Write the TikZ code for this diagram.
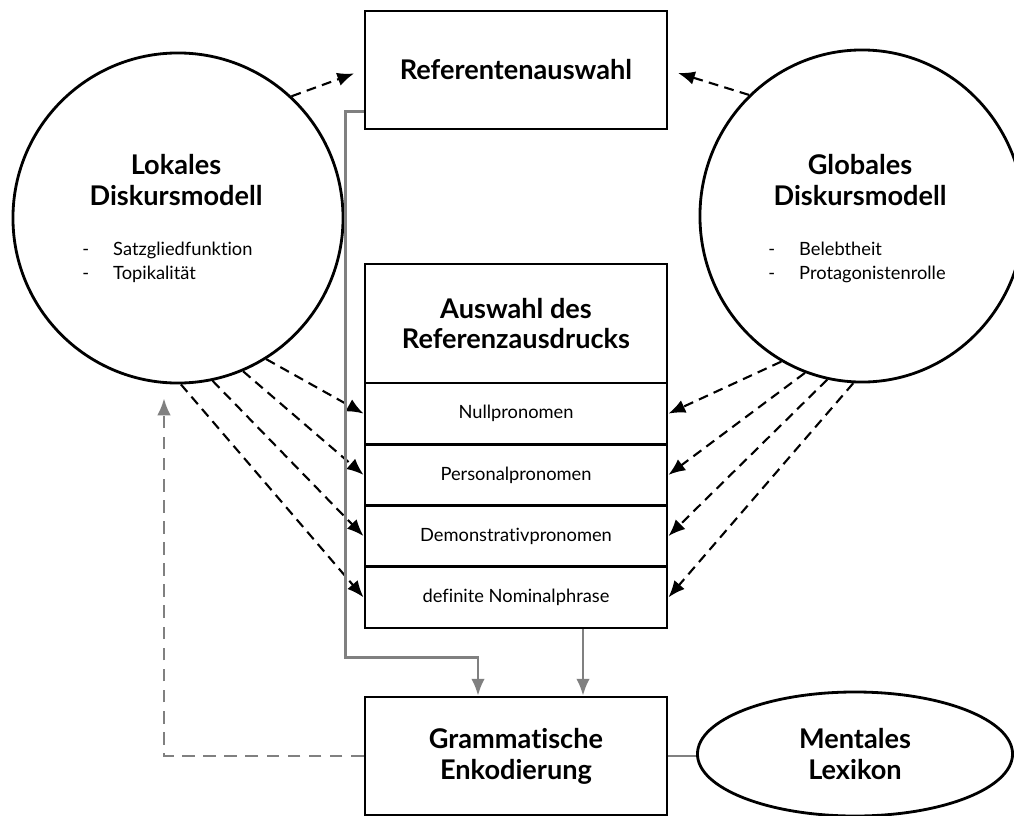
\documentclass[tikz,border=0pt]{standalone}
\usepackage{fontspec}
\setmainfont{Lato}[Ligatures=NoCommon]
\usetikzlibrary{arrows.meta,shapes.geometric,calc}

\tikzset{
  box/.style={draw, line width=2pt, minimum width=75.5mm, inner sep=0pt},
  rund/.style={draw, ellipse, line width=2pt, inner sep=0pt},
  titel/.style={font=\fontsize{19.3}{22}\selectfont\bfseries, align=center},
  eintrag/.style={font=\fontsize{13}{17}\selectfont},
  pfeil/.style={line width=1.5pt, dash pattern=on 7pt off 4.5pt,
    -{Latex[length=4.2mm,width=3.4mm]}},
  grau/.style={line width=1.6pt, draw=gray},
  graupfeil/.style={grau, -{Latex[length=4.2mm,width=3.4mm]}},
}

\begin{document}
\begin{tikzpicture}[x=0.025cm, y=-0.025cm]
  \useasboundingbox (0,0) rectangle (1014,816);
  % Diskursmodelle
  \node[rund, minimum width=82.5mm, minimum height=82.5mm] (lokal) at (178,218) {};
  \node[rund, minimum width=81mm, minimum height=83mm] (global) at (862,216) {};
  \node[titel] (lokaltitel) at (176,180) {Lokales\\Diskursmodell};
  \node[titel] (globaltitel) at (860,180) {Globales\\Diskursmodell};
  \node[eintrag, anchor=west, align=left, inner sep=0pt] (lokalliste) at (82,262)
    {\makebox[22pt][l]{-}Satzgliedfunktion\\\makebox[22pt][l]{-}Topikalität};
  \node[eintrag, anchor=west, align=left, inner sep=0pt] (globalliste) at (768,262)
    {\makebox[22pt][l]{-}Belebtheit\\\makebox[22pt][l]{-}Protagonistenrolle};
  % Referentenauswahl oben
  \node[box, minimum height=29.5mm, titel] (ref) at (516,70) {Referentenauswahl};
  % Auswahl des Referenzausdrucks
  \node[box, minimum height=29.75mm, titel] (auswahl) at (516,323.5) {Auswahl des\\Referenzausdrucks};
  \node[box, minimum height=15.3mm, eintrag] (null) at (516,413.6) {Nullpronomen};
  \node[box, minimum height=15.3mm, eintrag] (pers) at (516,474.9) {Personalpronomen};
  \node[box, minimum height=15.3mm, eintrag] (demo) at (516,536.1) {Demonstrativpronomen};
  \node[box, minimum height=15.3mm, eintrag] (def) at (516,597.4) {definite Nominalphrase};
  % Enkodierung und Lexikon
  \node[box, minimum height=29.5mm, titel] (gram) at (516,756) {Grammatische\\Enkodierung};
  \node[rund, minimum width=78.75mm, minimum height=31mm, titel] (lex) at (855,754) {Mentales\\Lexikon};
  % gestrichelte Pfeile
  \draw[pfeil, shorten >=2.5mm] (lokal.47) -- (ref.west);
  \draw[pfeil, shorten >=2.5mm] (global.133.5) -- (ref.east);
  \foreach \w/\z in {-58.3/null, -67.9/pers, -78.8/demo, -89/def}
    \draw[pfeil] (lokal.\w) -- (\z.west);
  \foreach \w/\z in {241.7/null, 250.4/pers, 258.4/demo, 267.7/def}
    \draw[pfeil] (global.\w) -- (\z.east);
  % graue Verbindungen
  \draw[graupfeil] ($(def.south)+(67,0)$) -- ($(gram.north)+(67,0)$);
  \draw[graupfeil] ($(ref.south west)+(0,-19)$) -- ++(-18,0) -- ++(0,546)
    -| ($(gram.north)+(-38,0)$);
  \draw[graupfeil, dash pattern=on 9pt off 6pt] (gram.west) -| ($(lokal.south)+(-14,14)$);
  \draw[grau] (gram.east) -- (gram.east -| lex.west);
\end{tikzpicture}
\end{document}
